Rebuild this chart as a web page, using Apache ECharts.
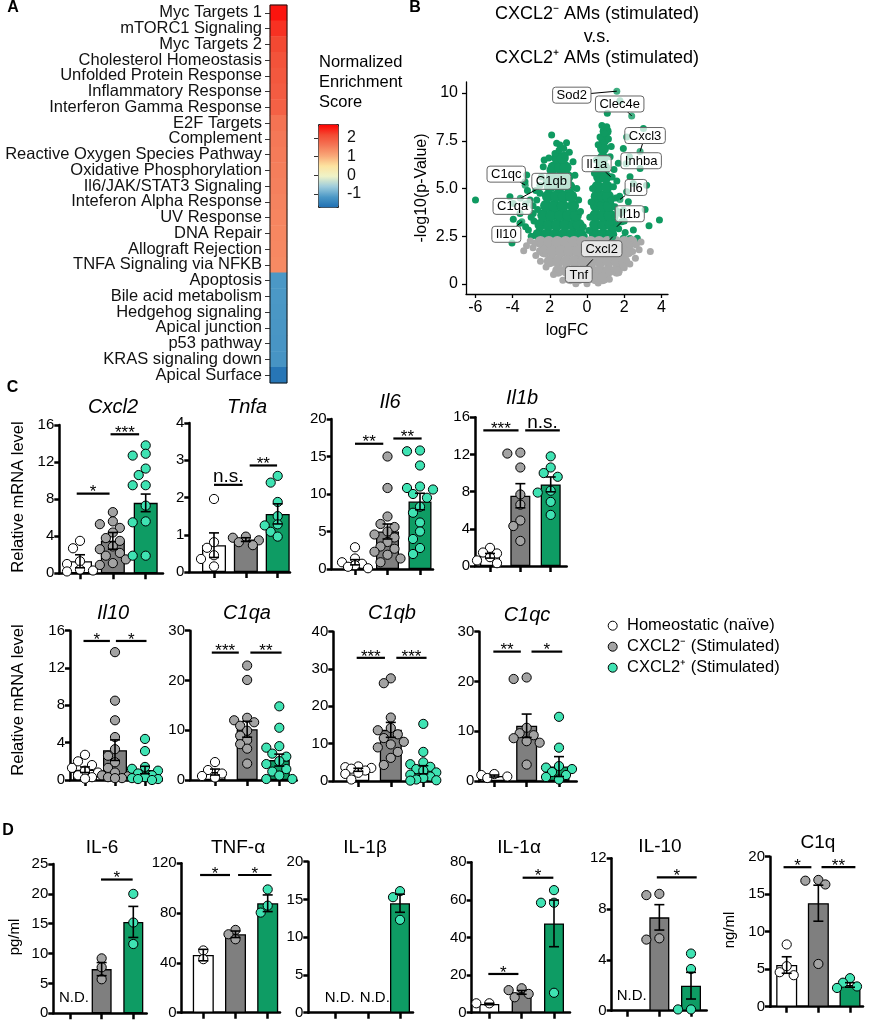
<!DOCTYPE html>
<html><head><meta charset="utf-8">
<script src="https://cdn.jsdelivr.net/npm/echarts@6/dist/echarts.min.js"></script>
<style>html,body{margin:0;padding:0;background:#fff}#c{width:869px;height:1023px}</style>
</head><body><div id="c"></div><script>
// ---------------- DATA ----------------
// Panel A
const pathways = ['Myc Targets 1','mTORC1 Signaling','Myc Targets 2','Cholesterol Homeostasis','Unfolded Protein Response','Inflammatory Response','Interferon Gamma Response','E2F Targets','Complement','Reactive Oxygen Species Pathway','Oxidative Phosphorylation','Il6/JAK/STAT3 Signaling','Inteferon Alpha Response','UV Response','DNA Repair','Allograft Rejection','TNFA Signaling via NFKB','Apoptosis','Bile acid metabolism','Hedgehog signaling','Apical junction','p53 pathway','KRAS signaling down','Apical Surface'];
const nes = [2.6,2.38,2.2,2.08,2.02,1.96,1.9,1.68,1.62,1.58,1.55,1.52,1.49,1.47,1.45,1.43,1.41,-1.15,-1.15,-1.16,-1.17,-1.18,-1.2,-1.6];
const nesTicks = [-1,0,1,2];

// Panel B (volcano): [logFC, -log10 p]
const volcanoSigBulk = [
 [-2.6,2.6],[-2.15,2.6],[-1.7,2.6],[-1.25,2.6],[-0.8,2.6],[-0.35,2.6],
 [-2.5,3.1],[-2.05,3.1],[-1.6,3.1],[-1.15,3.1],[-0.7,3.1],[-0.45,3.1],
 [-2.35,3.6],[-1.9,3.6],[-1.45,3.6],[-1.0,3.6],[-0.6,3.6],
 [-2.2,4.1],[-1.75,4.1],[-1.3,4.1],[-0.75,4.1],
 [-2.1,4.6],[-1.65,4.6],[-1.25,4.6],[-0.85,4.6],
 [-2.0,5.1],[-1.5,5.1],[-0.95,5.1],
 [-1.9,5.6],[-1.45,5.6],[-1.05,5.6],
 [-1.8,6.1],[-1.45,6.1],[-1.15,6.1],
 [-1.6,6.6],[-1.3,6.6],
 [0.42,2.6],[0.87,2.6],[1.3,2.6],
 [0.44,3.1],[0.88,3.1],[1.28,3.1],
 [0.46,3.6],[0.85,3.6],[1.22,3.6],
 [0.48,4.1],[0.85,4.1],[1.18,4.1],
 [0.52,4.6],[0.85,4.6],[1.12,4.6],
 [0.57,5.1],[1.06,5.1],
 [0.65,5.6],[1.0,5.6],
 [0.75,6.1],[0.92,6.1],
 [0.85,6.6],[0.86,7.1],[0.92,7.6],[1.0,8.0]
];
const volcanoSigPts = [
 [-5.99,4.4],[-1.9,7.8],[-1.63,7.37],[-1.45,7.28],[-1.72,6.84],[-1.18,6.75],[-2.35,6.14],[-1.99,5.97],[-3.24,5.71],[-3.33,5.36],[-2.53,5.18],[-4.14,4.57],[-3.96,4.22],[-3.06,4.4],[-3.6,3.7],[-3.96,3.39],[-3.15,2.83],[-3.6,3.18],[-4.03,2.15],[-2.89,3.7],[-2.7,2.65],[-2.6,2.3],[-2.9,4.1],[-2.53,4.75],[-2.75,4.9],[-2.45,5.6],[-2.3,6.5],[-1.5,7.0],[-1.25,7.1],[-2.85,3.3],[-3.3,3.0],[-3.0,2.5],[-2.05,6.6],[-2.2,5.35],[-0.95,6.9],[-1.1,7.4],[-3.2,4.9],[-2.7,4.4],[-2.65,3.9],[-3.0,3.5],[-0.75,6.4],[-0.65,5.7],[-0.55,5.0],[-0.45,4.4],[-0.35,3.8],[-0.2,3.0],[-0.15,2.5],
 [1.77,9.6],[1.09,8.94],[1.06,8.24],[3.03,8.15],[2.13,7.7],[1.95,7.1],[2.28,6.67],[1.68,6.32],[2.31,5.62],[2.49,5.27],[3.2,5.18],[2.13,4.83],[2.22,4.31],[1.95,3.87],[3.12,3.91],[3.89,3.35],[3.33,3.05],[2.49,2.83],[2.76,2.22],[2.31,2.39],[1.86,3.26],[1.5,4.05],[1.42,5.1],[1.24,6.67],[0.7,7.7],[2.85,6.05],[0.95,7.9],[1.15,7.6],[0.8,8.3],[1.3,7.2],[1.45,6.0],[1.6,5.4],[1.75,4.6],[1.55,4.5],[1.8,3.7],[2.0,3.3],[1.7,2.9],[2.05,2.7],[1.95,2.4],[1.5,3.5],[1.4,2.9],[2.7,2.4],[0.6,7.3],[0.5,6.5],[0.4,5.8],[0.3,5.0],[0.22,4.3],[0.15,3.5],[0.1,2.8],[1.35,5.6],[1.3,4.4],[1.6,3.2],[1.65,3.8]
];
const volcanoNsBulk = [
 [-2.5,2.2],[-2.05,2.2],[-1.6,2.2],[-1.15,2.2],[-0.7,2.2],[-0.25,2.2],[0.2,2.2],[0.65,2.2],[1.1,2.2],[1.55,2.2],[2.0,2.2],[2.4,2.2],
 [-2.3,1.7],[-1.85,1.7],[-1.4,1.7],[-0.95,1.7],[-0.5,1.7],[-0.05,1.7],[0.4,1.7],[0.85,1.7],[1.3,1.7],[1.75,1.7],[2.2,1.7],
 [-2.0,1.2],[-1.55,1.2],[-1.1,1.2],[-0.65,1.2],[-0.2,1.2],[0.25,1.2],[0.7,1.2],[1.15,1.2],[1.6,1.2],[2.0,1.2],
 [-1.55,0.7],[-1.1,0.7],[-0.65,0.7],[-0.2,0.7],[0.25,0.7],[0.7,0.7],[1.15,0.7],[1.6,0.7],
 [-0.9,0.3],[-0.45,0.3],[0,0.3],[0.45,0.3],[0.85,0.3]
];
const volcanoNsPts = [
 [-3.4,1.75],[-3.25,2.0],[-2.9,1.9],[-2.75,1.5],[-2.5,1.2],[-2.2,0.9],[-1.8,0.5],[-1.3,0.2],[-0.6,0.02],[0.6,0.05],[1.2,0.25],[1.7,0.6],[2.0,0.85],[2.3,1.05],[2.6,1.35],[2.8,1.8],[3.4,1.7],[2.3,2.05],[2.1,1.6],[2.65,2.05],[1.95,0.95],[1.6,0.75],[-2.8,2.15],[2.9,2.2],[-3.05,2.25],[0,0.02],[2.45,1.7],[-2.55,1.75]
];
const volcanoGenes = [['Sod2',1.6,10.1],['Clec4e',2.4,8.8],['Cxcl3',2.85,6.94],['Inhba',2.1,6.3],['Il1a',1.27,5.62],['Il6',1.77,4.43],['Il1b',1.6,3.0],['Cxcl2',1.38,2.48],['Tnf',0.31,1.29],['C1qc',-3.32,5.18],['C1qb',-3.58,4.49],['C1qa',-3.3,4.2],['Il10',-3.5,3.26]];
const volcanoXTicks = [-6,-4,-2,0,2,4];
const volcanoYTicks = [0,2.5,5,7.5,10];

// Panel C / D groups
const groups = ['Homeostatic (naïve)','CXCL2\u207B (Stimulated)','CXCL2\u207A (Stimulated)'];
// Panel C: points per group, bar means, SEMs, significance [from, to, y, text]
const cxcl2Pts = [[3.5,2.7,1.3,1.0,0.4,0.3,0.2],[6.6,5.6,5.3,4.9,4.4,3.8,3.5,2.9,2.6,2.2,1.9,1.5,1.1,0.9],[13.8,12.9,12.7,11.3,10.6,9.5,9.5,7.3,5.6,5.5,1.9,1.9]];
const cxcl2Mean = [1.3,3.5,7.6], cxcl2Sem = [0.7,0.9,0.95];
const cxcl2Sig = [[-0.1,0.9,8.6,'*'],[0.93,1.8,15.0,'***']];
const tnfaPts = [[1.96,0.8,0.65,0.45,0.35,0.15],[0.95,0.92,0.85,0.8,0.72],[2.58,2.4,1.88,1.5,1.28,1.25,1.08,0.95]];
const tnfaMean = [0.72,0.87,1.56], tnfaSem = [0.33,0.05,0.27];
const tnfaSig = [[0.0,0.9,2.34,'n.s.'],[1.12,1.98,2.86,'**']];
const il6Pts = [[2.9,1.4,0.9,0.7,0.5,0.3,0.1],[15.0,10.8,7.0,6.0,5.6,5.0,4.6,4.2,3.6,3.0,2.7,2.3,1.9,1.4,0.9],[15.8,15.7,13.8,11.0,10.8,10.6,10.0,9.5,8.3,7.5,6.2,5.0,4.0,2.8,2.0]];
const il6Mean = [0.9,5.0,9.0], il6Sem = [0.35,1.0,1.1];
const il6Sig = [[0.0,0.87,16.7,'**'],[1.18,2.05,17.4,'**']];
const il1bPts = [[1.95,1.45,1.35,0.95,0.6,0.3],[12.2,12.1,10.6,7.7,6.6,4.9,4.3,2.7],[11.8,10.6,10.0,9.6,8.1,7.9,6.9,5.5]];
const il1bMean = [1.1,7.56,8.78], il1bSem = [0.25,1.3,0.8];
const il1bSig = [[-0.22,0.94,14.6,'***'],[1.16,2.3,14.6,'n.s.']];
const il10Pts = [[2.7,2.0,1.6,1.3,1.0,0.8,0.5,0.3,0.15],[13.7,8.5,6.4,4.6,3.3,2.6,1.9,1.3,0.8,0.5,0.4,0.3,0.2,0.2],[4.4,3.1,1.4,1.2,1.0,0.7,0.5,0.3,0.2,0.1,0.1,0.0]];
const il10Mean = [1.1,3.2,1.07], il10Sem = [0.3,1.1,0.4];
const il10Sig = [[-0.05,0.83,14.9,'*'],[1.03,2.05,14.9,'*']];
const c1qaPts = [[3.6,2.0,1.3,0.8,0.5],[23,20.1,12.5,12.0,11.6,10.9,9.9,8.9,8.0,7.2,6.3,3.3],[14.8,10.5,6.8,6.5,5.3,4.7,3.8,3.2,2.2,1.7,0.9,0.2,0.2]];
const c1qaMean = [1.6,10.2,4.0], c1qaSem = [0.6,1.6,1.2];
const c1qaSig = [[-0.1,0.74,25.6,'***'],[1.1,2.07,25.6,'**']];
const c1qbPts = [[3.9,3.7,3.5,3.3,2.8,2.2,1.9,0.4],[27.5,26.2,17.0,14.2,13.6,12.5,11.5,10.5,9.8,9.0,7.8,6.2,4.3],[15.3,7.8,5.0,4.5,3.8,3.2,2.8,2.3,1.7,1.2,0.8,0.4,0.2,0.1]];
const c1qbMean = [3.0,13.7,3.0], c1qbSem = [0.4,2.0,1.1];
const c1qbSig = [[-0.05,0.82,33,'***'],[1.17,2.1,33,'***']];
const c1qcPts = [[1.4,1.2,0.9,0.6],[20.8,20.5,10.7,9.6,9.2,8.6,8.0,7.7,3.3],[12.9,6.7,3.0,2.7,2.4,1.8,1.2,0.8,0.3]];
const c1qcMean = [1.0,11.1,2.9], c1qcSem = [0.2,2.35,2.0];
const c1qcSig = [[-0.03,0.82,26,'**'],[1.15,2.1,26,'*']];
// Panel D (null = N.D.)
const dIl6Pts = [[],[9.2,7.7,5.7],[20,15.2,11.6]];
const dIl6Mean = [null,7.4,15.3], dIl6Sem = [0,1.1,2.6];
const dIl6Sig = [[0.98,1.98,22.4,'*']];
const dTnfPts = [[50,43],[66.5,63,59],[99,86,80.4]];
const dTnfMean = [46.3,63,87.9], dTnfSem = [4.6,2.6,6.7];
const dTnfSig = [[-0.1,0.83,110.6,'*'],[1.08,2.12,110.6,'*']];
const dIl1bPts = [[],[],[16.1,15.3,12.3]];
const dIl1bMean = [null,null,14.5], dIl1bSem = [0,0,1.2];
const dIl1bSig = [];
const dIl1aPts = [[5,5],[13,12,10,8.2],[65.2,58.5,58.5,10.6]];
const dIl1aMean = [4.6,10.8,47.5], dIl1aSem = [0.4,1.0,12.4];
const dIl1aSig = [[-0.03,0.9,20.6,'*'],[1.03,1.98,71.8,'*']];
const dIl10Pts = [[],[9.2,9.1,5.7,5.6],[4.5,3.28,0.1,0.1]];
const dIl10Mean = [null,7.35,1.97], dIl10Sem = [0,1.0,1.05];
const dIl10Sig = [[0.92,2.18,10.5,'*']];
const dC1qPts = [[8.3,5.4,4.6,4.2],[16.9,16.8,16.3,5.7],[3.8,3.2,2.7,2.5]];
const dC1qMean = [5.56,13.8,2.9], dC1qSem = [1.1,2.4,0.3];
const dC1qSig = [[-0.1,0.78,18.6,'*'],[1.1,2.17,18.6,'**']];

// ---------------- STYLE / LAYOUT ----------------
const FONT = '"Liberation Sans", Arial, Helvetica, sans-serif';
const BAR_COLORS = ['#ffffff','#7f7f7f','#0e9c64'];
const PT_COLORS = ['#ffffff','#a3a3a3','#3fe3b3'];
const V_GREEN = '#0f9a61', V_GRAY = '#a9a9a9';

const panelsC = [
 {t:'Cxcl2',l:59.3,r:163,top:425,bot:573.3,c0:80,c2:145.7,max:16,iv:4,bw:24,pts:cxcl2Pts,mean:cxcl2Mean,sem:cxcl2Sem,sig:cxcl2Sig,tx:113,ty:407},
 {t:'Tnfa',l:189.3,r:290,top:423,bot:572,c0:214,c2:277.7,max:4,iv:1,bw:24,pts:tnfaPts,mean:tnfaMean,sem:tnfaSem,sig:tnfaSig,tx:247,ty:407},
 {t:'Il6',l:331.7,r:433,top:419,bot:569,c0:355,c2:420,max:20,iv:5,bw:23,pts:il6Pts,mean:il6Mean,sem:il6Sem,sig:il6Sig,tx:390,ty:402},
 {t:'Il1b',l:475,r:566.7,top:417.3,bot:566,c0:490,c2:550.7,max:16,iv:4,bw:20,pts:il1bPts,mean:il1bMean,sem:il1bSem,sig:il1bSig,tx:522,ty:398},
 {t:'Il10',l:70,r:161.7,top:630.7,bot:780,c0:85,c2:145,max:16,iv:4,bw:24,pts:il10Pts,mean:il10Mean,sem:il10Sem,sig:il10Sig,tx:113,ty:613},
 {t:'C1qa',l:190,r:296.7,top:630.7,bot:780,c0:215,c2:279.3,max:30,iv:10,bw:21,pts:c1qaPts,mean:c1qaMean,sem:c1qaSem,sig:c1qaSig,tx:247,ty:613},
 {t:'C1qb',l:333.3,r:435,top:631.7,bot:781,c0:358.3,c2:423.3,max:40,iv:10,bw:22,pts:c1qbPts,mean:c1qbMean,sem:c1qbSem,sig:c1qbSig,tx:392,ty:613},
 {t:'C1qc',l:479.3,r:576.7,top:631.7,bot:781,c0:494.3,c2:559,max:30,iv:10,bw:21,pts:c1qcPts,mean:c1qcMean,sem:c1qcSem,sig:c1qcSig,tx:527,ty:615}
];
const panelsD = [
 {t:'IL-6',l:53.3,r:146.7,top:864,bot:1013.3,c0:70,c2:133.3,max:25,iv:5,bw:20,pts:dIl6Pts,mean:dIl6Mean,sem:dIl6Sem,sig:dIl6Sig,tx:102,ty:848,nd:[4,0,0]},
 {t:'TNF-\u03B1',l:181.7,r:280,top:863.3,bot:1012.7,c0:203.3,c2:267.7,max:120,iv:40,bw:21,pts:dTnfPts,mean:dTnfMean,sem:dTnfSem,sig:dTnfSig,tx:238,ty:848},
 {t:'IL-1\u03B2',l:308.3,r:413,top:861.7,bot:1012.7,c0:335.7,c2:400,max:20,iv:5,bw:20,pts:dIl1bPts,mean:dIl1bMean,sem:dIl1bSem,sig:dIl1bSig,tx:365,ty:848,nd:[4,7,0]},
 {t:'IL-1\u03B1',l:471.7,r:570,top:862.3,bot:1012.7,c0:489.3,c2:554,max:80,iv:20,bw:20,pts:dIl1aPts,mean:dIl1aMean,sem:dIl1aSem,sig:dIl1aSig,tx:519,ty:848},
 {t:'IL-10',l:611.7,r:706.7,top:858.3,bot:1010.7,c0:627.7,c2:691,max:12,iv:4,bw:20,pts:dIl10Pts,mean:dIl10Mean,sem:dIl10Sem,sig:dIl10Sig,tx:660,ty:847,nd:[4,0,0]},
 {t:'C1q',l:770,r:863,top:856.7,bot:1006.7,c0:786.7,c2:850,max:20,iv:5,bw:21,pts:dC1qPts,mean:dC1qMean,sem:dC1qSem,sig:dC1qSig,tx:818,ty:843}
];
const labelOffsets = {Sod2:[-45,4],Clec4e:[-12,-12],Cxcl3:[5,-16],Inhba:[15,-3],Il1a:[-14,-13],Il6:[16,-12],Il1b:[13,-13],Cxcl2:[-11,12],Tnf:[-14,15],C1qc:[-19,-11],C1qb:[31,-17],C1qa:[-13,2.5],Il10:[-15.5,12.5]};

// ---------------- BUILD ----------------
const option = {animation:false, backgroundColor:'#fff', textStyle:{fontFamily:FONT},
  grid:[], xAxis:[], yAxis:[], series:[], graphic:[], visualMap:[]};

function txt(text,x,y,size,extra){
  return Object.assign({type:'text', x:x, y:y, silent:true, style:Object.assign({text:text, fontSize:size, fontFamily:FONT, fill:'#000', align:'center', verticalAlign:'middle', textAlign:'center', textVerticalAlign:'middle'}, (extra&&extra.style)||{})}, (extra&&extra.el)||{});
}
const blackLine = w => ({color:'#000', width:w});

// Panel A heatmap
option.grid.push({left:270, top:5, width:17, height:378, show:true, borderColor:'#111', borderWidth:1, backgroundColor:'transparent', z:10});
option.xAxis.push({gridIndex:0, type:'category', data:['NES'], show:false});
option.yAxis.push({gridIndex:0, type:'category', data:pathways, inverse:true,
  axisLine:{show:false}, axisTick:{show:true, interval:0, alignWithLabel:true, length:5, lineStyle:{color:'#333', width:1}},
  axisLabel:{interval:0, fontSize:16.5, color:'#111', margin:8, fontFamily:FONT}, splitLine:{show:false}});
option.series.push({type:'heatmap', xAxisIndex:0, yAxisIndex:0, silent:true,
  data: pathways.map((p,i)=>[0,i,nes[i]]), itemStyle:{borderWidth:0}});
option.visualMap.push({type:'continuous', min:-1.7, max:2.75, seriesIndex:0, dimension:2, calculable:false, hoverLink:false,
  left:318, top:124, itemWidth:20, itemHeight:83, padding:0, text:null, showLabel:false,
  borderColor:'#222', borderWidth:1,
  inRange:{color:['#1f6fb2','#4b98c6','#9ccbdc','#eef3c8','#fde3a0','#f9a777','#f47656','#f34a33','#ff0000']}});
// colorbar tick axis
option.grid.push({left:318, top:124, width:20, height:83});
option.xAxis.push({gridIndex:1, type:'value', min:0, max:1, show:false});
option.yAxis.push({gridIndex:1, type:'value', min:-1.7, max:2.75, position:'right',
  axisLine:{show:false}, splitLine:{show:false},
  axisTick:{show:true, inside:true, length:4, customValues:nesTicks, lineStyle:{color:'#333', width:1}},
  axisLabel:{customValues:nesTicks, fontSize:16, color:'#111', margin:9, fontFamily:FONT}});
option.series.push({type:'line', xAxisIndex:1, yAxisIndex:1, data:[], silent:true});

// Panel B volcano
option.grid.push({left:466, top:82, width:202, height:212});
option.xAxis.push({gridIndex:2, type:'value', min:-6.5, max:4.35,
  axisLine:{show:true, onZero:false, lineStyle:blackLine(1.3)},
  axisTick:{show:true, length:4, customValues:volcanoXTicks, lineStyle:blackLine(1.3)},
  axisLabel:{customValues:volcanoXTicks, fontSize:16, color:'#000', margin:6, fontFamily:FONT, formatter:v=> v===-2?'2':String(v)},
  splitLine:{show:false}, name:'logFC', nameLocation:'middle', nameGap:29, nameTextStyle:{fontSize:16, color:'#000', fontFamily:FONT}});
option.yAxis.push({gridIndex:2, type:'value', min:-0.52, max:10.58,
  axisLine:{show:true, onZero:false, lineStyle:blackLine(1.3)},
  axisTick:{show:true, length:4, customValues:volcanoYTicks, lineStyle:blackLine(1.3)},
  axisLabel:{customValues:volcanoYTicks, fontSize:16, color:'#000', margin:8, fontFamily:FONT, formatter:v=> v===0?'0':(v===10?'10':v.toFixed(1))},
  splitLine:{show:false}, name:'-log10(p-Value)', nameLocation:'middle', nameGap:36, nameTextStyle:{fontSize:16, color:'#000', fontFamily:FONT}});
const vs = (data,size,color,z) => ({type:'scatter', xAxisIndex:2, yAxisIndex:2, data:data, symbolSize:size, silent:true, z:z, itemStyle:{color:color, opacity:1, borderWidth:0}});
option.series.push(vs(volcanoSigBulk,12,V_GREEN,2));
option.series.push(vs(volcanoSigPts,7,V_GREEN,2));
option.series.push(vs(volcanoNsBulk,12,V_GRAY,3));
option.series.push(vs(volcanoNsPts,7,V_GRAY,3));
option.series.push({type:'scatter', xAxisIndex:2, yAxisIndex:2, symbolSize:7, silent:true, z:4,
  data:volcanoGenes.map(g=>({value:[g[1],g[2]], itemStyle:{color: g[2]>2.2?V_GREEN:V_GRAY}}))});
const mctx = document.createElement('canvas').getContext('2d');
mctx.font = '13px ' + FONT;
option.series.push({type:'custom', xAxisIndex:2, yAxisIndex:2, silent:true, z:6,
  data: volcanoGenes.map((g,i)=>[g[1],g[2],i]),
  renderItem:(params,api)=>{
    const g = volcanoGenes[api.value(2)];
    const p = api.coord([api.value(0), api.value(1)]);
    const off = labelOffsets[g[0]];
    const cx = p[0]+off[0], cy = p[1]+off[1];
    const w = mctx.measureText(g[0]).width + 8, h = 16;
    const dx = p[0]-cx, dy = p[1]-cy;
    const t = Math.min(dx!==0 ? (w/2)/Math.abs(dx) : Infinity, dy!==0 ? (h/2)/Math.abs(dy) : Infinity);
    const ch = [];
    if (t < 1) ch.push({type:'line', shape:{x1:cx+dx*t, y1:cy+dy*t, x2:p[0], y2:p[1]}, style:{stroke:'#000', lineWidth:1}});
    ch.push({type:'rect', shape:{x:cx-w/2, y:cy-h/2, width:w, height:h, r:3}, style:{fill:'rgba(255,255,255,0.72)', stroke:'#666', lineWidth:1}});
    ch.push({type:'text', x:cx, y:cy+0.5, style:{text:g[0], fontSize:13, fontFamily:FONT, fill:'#000', align:'center', verticalAlign:'middle', textAlign:'center', textVerticalAlign:'middle'}});
    return {type:'group', children:ch};
  }});

// bar panels
function swarm(vals, k){
  const placed = [], out = [];
  vals.forEach(v=>{
    const y = v*k; let best = 0, bestD = -1;
    for (const dx of [0,-7,7,-13,13]) {
      let md = Infinity;
      placed.forEach(p=>{ const d = Math.hypot(p[0]-dx, p[1]-y); if (d < md) md = d; });
      if (md >= 8) { best = dx; bestD = md; break; }
      if (md > bestD) { bestD = md; best = dx; }
    }
    placed.push([best, y]); out.push(best);
  });
  return out;
}
function addBarPanel(p, italic, titleSize){
  const gi = option.grid.length;
  const s = (p.c2 - p.c0)/2;
  option.grid.push({left:p.l, top:p.top, width:p.r-p.l, height:p.bot-p.top});
  option.xAxis.push({gridIndex:gi, type:'value', min:(p.l-p.c0)/s, max:(p.r-p.c0)/s,
    axisLine:{show:true, onZero:false, lineStyle:blackLine(2.5)},
    axisTick:{show:true, length:6, customValues:[0,1,2], lineStyle:blackLine(2.5)},
    axisLabel:{show:false, customValues:[0,1,2]}, splitLine:{show:false}});
  option.yAxis.push({gridIndex:gi, type:'value', min:0, max:p.max, interval:p.iv,
    axisLine:{show:true, onZero:false, lineStyle:blackLine(2.5)},
    axisTick:{show:true, length:5, lineStyle:blackLine(2.5)},
    axisLabel:{fontSize:15, color:'#000', margin:5, fontFamily:FONT}, splitLine:{show:false}});
  const k = (p.bot-p.top)/p.max;
  const barData = [];
  p.mean.forEach((m,i)=>{ if (m!=null) barData.push({value:[i,m], itemStyle:{color:BAR_COLORS[i]}}); });
  option.series.push({type:'bar', xAxisIndex:gi, yAxisIndex:gi, barWidth:p.bw, silent:true, z:2,
    data:barData, itemStyle:{borderColor:'#000', borderWidth:1.3}});
  const ptData = [];
  p.pts.forEach((arr,g)=>{ const offs = swarm(arr,k); arr.forEach((v,j)=>ptData.push([g,v,offs[j]])); });
  option.series.push({type:'custom', xAxisIndex:gi, yAxisIndex:gi, silent:true, z:3, data:ptData,
    renderItem:(params,api)=>{ const g = api.value(0); const c = api.coord([g, api.value(1)]);
      return {type:'circle', shape:{cx:c[0]+api.value(2), cy:c[1], r:4.6}, style:{fill:PT_COLORS[g], stroke:'#000', lineWidth:1}}; }});
  const ndOff = p.nd || [0,0,0];
  option.series.push({type:'custom', xAxisIndex:gi, yAxisIndex:gi, silent:true, z:4,
    data:p.mean.map((m,i)=>[i, m==null?0:m, p.sem[i], m==null?1:0]),
    renderItem:(params,api)=>{
      const g = api.value(0), m = api.value(1), se = api.value(2), nd = api.value(3);
      if (nd) { const c = api.coord([g,0]);
        return {type:'text', x:c[0]+ndOff[g], y:c[1]-15, style:{text:'N.D.', fontSize:15, fontFamily:FONT, fill:'#000', align:'center', verticalAlign:'middle', textAlign:'center', textVerticalAlign:'middle'}}; }
      const a = api.coord([g, m+se]), b = api.coord([g, m-se]); const w = 5;
      const st = {stroke:'#000', lineWidth:1.6};
      return {type:'group', children:[
        {type:'line', shape:{x1:a[0],y1:a[1],x2:b[0],y2:b[1]}, style:st},
        {type:'line', shape:{x1:a[0]-w,y1:a[1],x2:a[0]+w,y2:a[1]}, style:st},
        {type:'line', shape:{x1:b[0]-w,y1:b[1],x2:b[0]+w,y2:b[1]}, style:st}]};
    }});
  if (p.sig.length) {
    option.series.push({type:'custom', xAxisIndex:gi, yAxisIndex:gi, silent:true, z:4,
      data:p.sig.map((sg,i)=>[sg[0], sg[2], sg[1], i]),
      renderItem:(params,api)=>{
        const a = api.coord([api.value(0), api.value(1)]), b = api.coord([api.value(2), api.value(1)]);
        const label = p.sig[api.value(3)][3]; const ns = label==='n.s.';
        return {type:'group', children:[
          {type:'line', shape:{x1:a[0],y1:a[1],x2:b[0],y2:b[1]}, style:{stroke:'#000', lineWidth:2.2}},
          {type:'text', x:(a[0]+b[0])/2, y: ns ? a[1]+1.5 : a[1]-1,
            style:{text:label, fontSize: ns?19:17, fontFamily:FONT, fill:'#000', align:'center', textAlign:'center',
              verticalAlign: ns?'bottom':'middle', textVerticalAlign: ns?'bottom':'middle'}}]};
      }});
  }
  option.graphic.push(txt(p.t, p.tx, p.ty, titleSize, {style:{fontStyle: italic?'italic':'normal'}}));
}
panelsC.forEach(p=>addBarPanel(p, true, 20));
panelsD.forEach(p=>addBarPanel(p, false, 19));

// texts
option.graphic.push(txt('A', 13, 8, 16, {style:{fontWeight:'bold'}}));
option.graphic.push(txt('B', 415, 8, 16, {style:{fontWeight:'bold'}}));
option.graphic.push(txt('C', 12.5, 388, 16, {style:{fontWeight:'bold'}}));
option.graphic.push(txt('D', 8, 831, 16, {style:{fontWeight:'bold'}}));
option.graphic.push(txt('Normalized\nEnrichment\nScore', 319, 82, 16.5, {style:{align:'left', textAlign:'left', lineHeight:20}}));
option.graphic.push(txt('CXCL2\u207B AMs (stimulated)', 597, 14, 18));
option.graphic.push(txt('v.s.', 597, 37, 18));
option.graphic.push(txt('CXCL2\u207A AMs (stimulated)', 597, 58, 18));
option.graphic.push(txt('Relative mRNA level', 18, 497, 16.5, {el:{rotation:Math.PI/2}}));
option.graphic.push(txt('Relative mRNA level', 18, 700, 16.5, {el:{rotation:Math.PI/2}}));
option.graphic.push(txt('pg/ml', 15, 937, 15, {el:{rotation:Math.PI/2}}));
option.graphic.push(txt('ng/ml', 730, 930, 15, {el:{rotation:Math.PI/2}}));
const legendY = [625.7, 646.7, 667.7];
groups.forEach((g,i)=>{
  option.graphic.push({type:'circle', silent:true, shape:{cx:612.7, cy:legendY[i], r:4.5}, style:{fill:PT_COLORS[i], stroke:'#000', lineWidth:1}});
  option.graphic.push(txt(g, 627, legendY[i], 16.5, {style:{align:'left', textAlign:'left'}}));
});

const chart = echarts.init(document.getElementById('c'), null, {renderer:'canvas'});
chart.setOption(option);
</script></body></html>
